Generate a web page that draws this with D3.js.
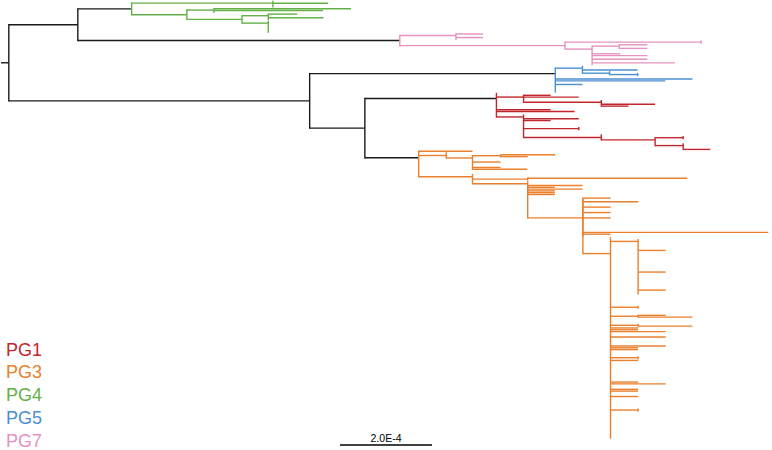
<!DOCTYPE html>
<html><head><meta charset="utf-8">
<script src="https://cdn.jsdelivr.net/npm/d3@7"></script>
<style>html,body{margin:0;padding:0;background:#fff;} svg{display:block;}</style>
</head><body>
<svg id="chart" width="772" height="450"></svg>
<script>
// ---- data ----
const cladeNames  = ["PG1", "PG3", "PG4", "PG5", "PG7"];
const cladeColors = ["#c1272d", "#ea7f2c", "#63b146", "#4b8fd0", "#e592c0"];
const lengthUnit = 1e-5;          // branch lengths below are in units of 1e-5 subst./site
const scaleBarValue = 2.0e-4;

// clade subtrees (Newick, unnamed tips, branch lengths)
const pg4 = "((:0,:12.0,:0,:0):30.7,((:29.8,:23.7,:0):5.9,((:6.3,:0,:12.0,:0):5.7,(:0,:0,:0,:0,:0,:0,:0):5.7):12.0):12.0)PG4:11.7";
const pg7 = "((:5.9,:0,:5.9,:0):12.2,((:0,:0):29.6,((:6.1,:0,:6.1):5.9,:0,:0,:6.1,:12.0,:0,:12.0,:0,:18.0,:0):5.9):35.9)PG7:70.0";
const pg5 = "((:0,:0,:12.0,(:0,(:0,:0):6.1):5.9):5.9,:0,:29.8,:23.9,:0,:5.9,:0,:0,:0,:0)PG5:53.4";
const pg1 = "(:0,(:5.9,:12.0,:0,(:0,:0,:11.7,:5.9):16.9):5.9,:0,:11.8,:17.0,:0,(:0,:0,:12.0,:5.9,:0,:0,:0,(:0,:0):12.0,:0,:0,(:0,((:0,:0):6.1,:0,:0,(:0,:0,:0,:5.9):6.1):11.7):16.9):5.9)PG1:28.6";
const pg3o51 = "(:0,:0,:0,:0,:0,:0,:6.0,:0,:0,:0,:0,:0,:0,:0,:0,:0,:0,:0,:6.0,:0,:0,:0,:0,:0,:0,:0,:0,:0,:6.0,:0,:0):6.0";
const pg3o5 = `(:0,${pg3o51},:0,:0,:0,:0,:0,:0,(:0,:0):6.0,:0,:0,:0,(:6.0,:11.8):6.0,:0,:0,:0,(:0,:11.8):6.0,:6.0,:6.0,:12.0,:0,:0,:12.0,:0,:0,:0,:0,:12.0,:6.0,:6.0,:0,:0,:0,(:0,:0):6.0,:6.0,:0,:0,:0,:0,:0,:0,:0,:0,:0,:0,:0,:6.0,:12.0,:0,:0,:6.0,:6.0,:0,:0,:6.0,:0,:0,:0,:0,:0,:0,(:0,:0):6.0,:0,:0,:0,:0,:0,:0,:0,:0,:0,:0,:0,:0,:0,:0,:0):6.0`;
const pg3o4a = "(:6.0,:0,:12.0,:0,:0,:6.0,:0,:0,:6.0,:0,:0,:6.0,:0,:0,:0,:0,:0,:0,:0):0";
const pg3o4b = `(:40.3,:6.0,:0,${pg3o5}):0`;
const pg3 = `(:11.7,(:0,((:11.9,:5.9):6.1,:0,:0,:6.1,:0,:0,:6.1,:11.9):5.7):6.0,:0,:0,(:0,:0,(:34.7,:0):12.0,(:0,:0,:11.9,:5.9,:11.9,:5.9,:5.9,:5.9,:0,(${pg3o4a},${pg3o4b}):12.0):12.0):11.7)PG3:11.7`;

// backbone
const treeNewick = `((${pg4},${pg7}):15.0,(${pg5},(${pg1},${pg3}):12.0):65.4):1.7;`;

// ---- parsing ----
function parseNewick(str) {
  const s = str.replace(/\s+/g, "");
  let i = 0;
  function node() {
    const n = { name: "", length: 0 };
    if (s[i] === "(") {
      i++;
      n.children = [node()];
      while (s[i] === ",") { i++; n.children.push(node()); }
      i++; // ')'
    }
    let name = "";
    while (i < s.length && !":,();".includes(s[i])) name += s[i++];
    n.name = name;
    if (s[i] === ":") {
      i++;
      let num = "";
      while (i < s.length && !",();".includes(s[i])) num += s[i++];
      n.length = +num;
    }
    return n;
  }
  return node();
}

const root = d3.hierarchy(parseNewick(treeNewick), d => d.children);
root.eachBefore(d => {
  d.dist = (d.parent ? d.parent.dist : 0) + d.data.length * lengthUnit;
  d.clade = cladeNames.includes(d.data.name) ? d.data.name : (d.parent ? d.parent.clade : null);
});

const leaves = root.leaves();
const yScale = d3.scaleLinear().domain([0, leaves.length - 1]).range([1.5, 438]);
leaves.forEach((d, i) => { d.yy = yScale(i); });
root.eachAfter(d => {
  if (d.children) {
    let v = d.children[d.children.length - 1].yy;
    for (let k = d.children.length - 2; k >= 0; k--) v = (d.children[k].yy + v) / 2;
    d.yy = v;
  }
});

const xScale = d3.scaleLinear().domain([0, scaleBarValue]).range([1, 93]);
const color = d3.scaleOrdinal().domain(cladeNames).range(cladeColors).unknown("#1a1a1a");

const svg = d3.select("#chart");
const g = svg.append("g").attr("fill", "none").attr("stroke-width", 1.4);
const half = 0.7;

const segs = [];
root.descendants().forEach(d => {
  const x0 = d.parent ? xScale(d.parent.dist) : xScale(0);
  const x1 = xScale(d.dist);
  if (x1 - x0 > 0.05) segs.push({ x1: x0, y1: d.yy, x2: x1, y2: d.yy, c: color(d.parent ? d.parent.clade : null) });
  if (d.children) {
    const ys = d.children.map(c => c.yy);
    segs.push({ x1: x1, y1: d3.min(ys) - half, x2: x1, y2: d3.max(ys) + half, c: color(d.clade) });
  }
});
g.selectAll("line.branch").data(segs).join("line")
  .attr("class", "branch")
  .attr("x1", d => d.x1).attr("y1", d => d.y1)
  .attr("x2", d => d.x2).attr("y2", d => d.y2)
  .attr("stroke", d => d.c);

// legend
svg.append("g").selectAll("text").data(cladeNames).join("text")
  .attr("x", 6)
  .attr("y", (d, i) => 355.5 + i * 22.8)
  .attr("font-family", "Liberation Sans, Arial, Helvetica, sans-serif")
  .attr("font-size", 18)
  .attr("fill", (d, i) => cladeColors[i])
  .text(d => d);

// scale bar
const sbX = 340, sbY = 445;
const sbW = xScale(scaleBarValue) - xScale(0);
svg.append("line").attr("x1", sbX).attr("x2", sbX + sbW).attr("y1", sbY).attr("y2", sbY)
  .attr("stroke", "#000").attr("stroke-width", 1.4);
svg.append("text").attr("x", sbX + sbW / 2).attr("y", 441.5)
  .attr("text-anchor", "middle")
  .attr("font-family", "Liberation Sans, Arial, Helvetica, sans-serif")
  .attr("font-size", 10.5).attr("fill", "#000")
  .text(d3.format(".1e")(scaleBarValue).toUpperCase());
</script>
</body></html>
